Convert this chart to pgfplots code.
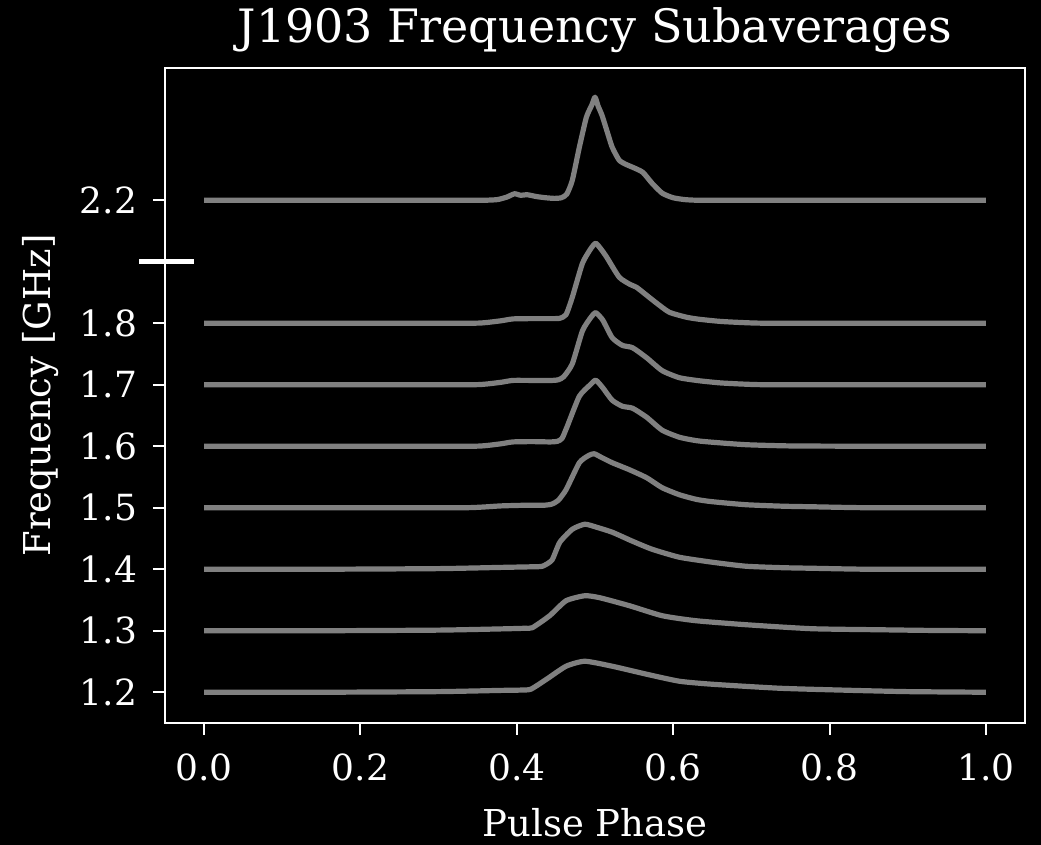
\documentclass[border=0pt]{standalone}
\usepackage{fontspec}
\setmainfont{DejaVu Serif}
\usepackage{pgfplots}
\pgfplotsset{compat=1.18}
\definecolor{prof}{RGB}{128,128,128}
\tikzset{profline/.style={prof, line width=2.6pt, line join=round, mark=none, smooth, tension=0.35}}

\begin{document}
\begin{tikzpicture}
\fill[black] (-82.5pt,-61pt) rectangle (438pt,361.5pt);
\begin{axis}[
    scale only axis,
    width=430pt, height=327.5pt,
    xmin=-0.05, xmax=1.05,
    ymin=1.15, ymax=2.215,
    clip=false,
    axis line style={white, line width=1pt},
    tick style={white, line width=1pt},
    major tick length=6pt,
    tick align=outside,
    xtick pos=bottom, ytick pos=left,
    xtick={0,0.2,0.4,0.6,0.8,1.0},
    xticklabels={0.0,0.2,0.4,0.6,0.8,1.0},
    ytick={1.2,1.3,1.4,1.5,1.6,1.7,1.8,2.0},
    yticklabels={1.2,1.3,1.4,1.5,1.6,1.7,1.8,2.2},
    ticklabel style={white, font=\fontsize{18}{21}\selectfont},
    xticklabel shift=6pt,
    yticklabel shift=4.5pt,
    /pgf/number format/assume math mode=true,
    xlabel={Pulse Phase},
    ylabel={Frequency [GHz]},
    title={J1903 Frequency Subaverages},
    every axis x label/.style={at={(axis description cs:0.5,0)}, anchor=center, yshift=-50pt, white, font=\fontsize{18.5}{22}\selectfont},
    every axis y label/.style={at={(axis description cs:0,0.5)}, anchor=center, rotate=90, yshift=62pt, white, font=\fontsize{18.5}{22}\selectfont},
    every axis title/.style={at={(axis description cs:0.5,1)}, anchor=center, yshift=19pt, white, font=\fontsize{23}{27}\selectfont},
]
% 2.2 GHz (drawn at 2.0)
\addplot[profline] coordinates {(0,2.0) (0.2,2.0) (0.34,2.0) (0.36,2.0) (0.375,2.001) (0.387,2.005) (0.397,2.0105) (0.405,2.008) (0.413,2.009) (0.425,2.006) (0.437,2.004) (0.448,2.003) (0.457,2.004) (0.464,2.010) (0.471,2.0325) (0.480,2.0862) (0.489,2.135) (0.496,2.155) (0.500,2.1675) (0.504,2.153) (0.509,2.138) (0.515,2.1138) (0.522,2.0862) (0.531,2.065) (0.540,2.058) (0.548,2.0537) (0.561,2.0455) (0.573,2.0276) (0.586,2.0114) (0.600,2.004) (0.615,2.001) (0.63,2.0) (0.66,2.0) (0.8,2.0) (1,2.0)};
% 1.8
\addplot[profline] coordinates {(0,1.8) (0.2,1.8) (0.34,1.8) (0.36,1.801) (0.38,1.804) (0.395,1.807) (0.42,1.8075) (0.445,1.8075) (0.455,1.808) (0.463,1.814) (0.471,1.8423) (0.484,1.8976) (0.495,1.922) (0.501,1.930) (0.508,1.92) (0.515,1.9073) (0.531,1.8748) (0.545,1.863) (0.553,1.8585) (0.566,1.8455) (0.579,1.8325) (0.595,1.8179) (0.617,1.8098) (0.633,1.8065) (0.66,1.803) (0.69,1.801) (0.72,1.8) (0.85,1.8) (1,1.8)};
% 1.7
\addplot[profline] coordinates {(0,1.7) (0.2,1.7) (0.34,1.7) (0.36,1.701) (0.38,1.704) (0.395,1.707) (0.42,1.707) (0.445,1.707) (0.453,1.708) (0.460,1.713) (0.471,1.7341) (0.484,1.7878) (0.495,1.810) (0.501,1.8171) (0.510,1.805) (0.522,1.7764) (0.535,1.764) (0.548,1.7602) (0.566,1.7439) (0.586,1.7228) (0.608,1.7114) (0.633,1.7065) (0.66,1.703) (0.69,1.701) (0.72,1.7) (0.85,1.7) (1,1.7)};
% 1.6
\addplot[profline] coordinates {(0,1.6) (0.2,1.6) (0.34,1.6) (0.36,1.601) (0.38,1.604) (0.395,1.607) (0.42,1.6075) (0.443,1.607) (0.452,1.608) (0.458,1.613) (0.465,1.634) (0.480,1.6813) (0.494,1.700) (0.501,1.7073) (0.510,1.695) (0.522,1.6748) (0.535,1.665) (0.548,1.6618) (0.566,1.6472) (0.586,1.626) (0.608,1.6146) (0.63,1.609) (0.65,1.6065) (0.693,1.6025) (0.75,1.6005) (0.85,1.6) (1,1.6)};
% 1.5
\addplot[profline] coordinates {(0,1.5) (0.2,1.5) (0.33,1.5) (0.355,1.501) (0.38,1.503) (0.41,1.504) (0.435,1.504) (0.445,1.506) (0.453,1.512) (0.463,1.5293) (0.480,1.5732) (0.492,1.585) (0.499,1.5878) (0.508,1.582) (0.522,1.5732) (0.544,1.5618) (0.566,1.5488) (0.586,1.5325) (0.608,1.5211) (0.63,1.5135) (0.65,1.5098) (0.693,1.5049) (0.74,1.5025) (0.777,1.5016) (0.85,1.5) (1,1.5)};
% 1.4
\addplot[profline] coordinates {(0,1.4) (0.15,1.4) (0.3,1.401) (0.38,1.403) (0.42,1.404) (0.433,1.405) (0.445,1.415) (0.455,1.4439) (0.471,1.465) (0.487,1.4732) (0.502,1.4683) (0.522,1.4602) (0.548,1.4455) (0.573,1.4325) (0.608,1.4195) (0.65,1.4114) (0.693,1.4049) (0.74,1.4025) (0.777,1.4016) (0.85,1.4) (1,1.4)};
% 1.3
\addplot[profline] coordinates {(0,1.3) (0.15,1.3) (0.3,1.301) (0.38,1.303) (0.41,1.304) (0.42,1.305) (0.442,1.3244) (0.463,1.3488) (0.487,1.3569) (0.506,1.3537) (0.544,1.3407) (0.586,1.3244) (0.629,1.3163) (0.693,1.3098) (0.777,1.3033) (0.863,1.3016) (0.93,1.3005) (1,1.3)};
% 1.2
\addplot[profline] coordinates {(0,1.2) (0.15,1.2) (0.3,1.201) (0.38,1.203) (0.405,1.2035) (0.418,1.205) (0.438,1.2211) (0.463,1.2423) (0.487,1.2504) (0.522,1.2423) (0.566,1.2293) (0.608,1.2179) (0.65,1.213) (0.736,1.2065) (0.821,1.2033) (0.9,1.201) (1,1.2)};
% axis break marker
\addplot[white, line width=2.5pt, mark=none] coordinates {(-0.083,1.9) (-0.013,1.9)};
\end{axis}
\pgfresetboundingbox
\path (-82.5pt,-61pt) rectangle (438pt,361.5pt);
\end{tikzpicture}
\end{document}
